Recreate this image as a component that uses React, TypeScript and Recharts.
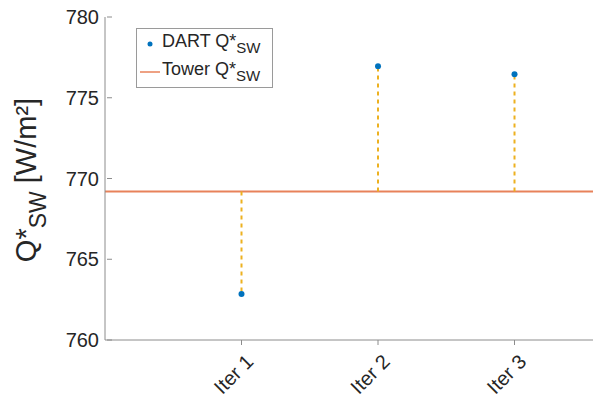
import { ComposedChart, Scatter, XAxis, YAxis, ReferenceLine } from "recharts";

const iterLabels = ["Iter 1", "Iter 2", "Iter 3"];
const iterX = [1, 2, 3];
const dartValues = [762.85, 776.95, 776.45];
const towerValue = 769.2;
const yTicks = [760, 765, 770, 775, 780];

const dartData = iterX.map((x, i) => ({ x, y: dartValues[i] }));

const FONT = "'Liberation Sans', Arial, sans-serif";
const AXIS = "#8c8c8c";
const TEXT = "#262626";

const YTick = (props: any) => {
  const { x, y, payload } = props;
  return (
    <g>
      <line x1={x + 8} x2={x + 13} y1={y} y2={y} stroke={AXIS} />
      <text x={x} y={y + 7} textAnchor="end" fontSize={20} fill={TEXT} fontFamily={FONT}>
        {payload.value}
      </text>
    </g>
  );
};

const XTick = (props: any) => {
  const { x, y, payload } = props;
  const label = iterLabels[iterX.indexOf(payload.value)] ?? "";
  const tx = x + 13;
  const ty = y + 15;
  return (
    <g>
      <line x1={x} x2={x} y1={y - 8} y2={y - 3} stroke={AXIS} />
      <text
        x={tx}
        y={ty}
        textAnchor="end"
        fontSize={20}
        fill={TEXT}
        fontFamily={FONT}
        transform={`rotate(-45, ${tx}, ${ty})`}
      >
        {label}
      </text>
    </g>
  );
};

const LegendBox = () => (
  <svg width={138} height={61} style={{ position: "absolute", left: 136, top: 28 }}>
    <rect x={0.5} y={0.5} width={136} height={59} fill="#fff" stroke="#9a9a9a" />
    <circle cx={14} cy={16} r={2.5} fill="#0072BD" />
    <text x={26} y={19} fontSize={18} fill={TEXT} fontFamily={FONT}>
      DART Q*
      <tspan fontSize={15} dy={6}>SW</tspan>
    </text>
    <line x1={4} x2={24} y1={44} y2={44} stroke="#E8825A" strokeWidth={1.5} />
    <text x={26} y={47} fontSize={18} fill={TEXT} fontFamily={FONT}>
      Tower Q*
      <tspan fontSize={15} dy={6}>SW</tspan>
    </text>
  </svg>
);

const YLabel = () => (
  <svg width={60} height={400} style={{ position: "absolute", left: 0, top: 0 }}>
    <text
      x={36}
      y={180}
      textAnchor="middle"
      fontSize={29}
      fill={TEXT}
      fontFamily={FONT}
      transform="rotate(-90, 36, 180)"
    >
      Q*
      <tspan fontSize={23} dy={10}>SW</tspan>
      <tspan dy={-10}> [W/m²]</tspan>
    </text>
  </svg>
);

export default function App() {
  return (
    <div style={{ position: "absolute", left: 0, top: 0, width: 593, height: 400, background: "#fff" }}>
      <ComposedChart width={593} height={400} margin={{ top: 17, right: 0, bottom: 0, left: 0 }}>
        <XAxis
          type="number"
          dataKey="x"
          domain={[0, 3.575]}
          ticks={iterX}
          allowDataOverflow
          stroke={AXIS}
          tickLine={false}
          tick={<XTick />}
          height={60}
        />
        <YAxis
          type="number"
          dataKey="y"
          domain={[760, 780]}
          ticks={yTicks}
          width={105}
          stroke={AXIS}
          tickLine={false}
          tickMargin={0}
          tick={<YTick />}
        />
        <ReferenceLine y={towerValue} stroke="#E8825A" strokeWidth={2} />
        {iterX.map((x, i) => (
          <ReferenceLine
            key={x}
            segment={[
              { x, y: towerValue },
              { x, y: dartValues[i] },
            ]}
            stroke="#EDB120"
            strokeWidth={2}
            strokeDasharray="4 4"
          />
        ))}
        <Scatter
          data={dartData}
          fill="#0072BD"
          isAnimationActive={false}
          shape={(p: any) => <circle cx={p.cx} cy={p.cy} r={3} fill="#0072BD" />}
        />
      </ComposedChart>
      <YLabel />
      <LegendBox />
    </div>
  );
}
